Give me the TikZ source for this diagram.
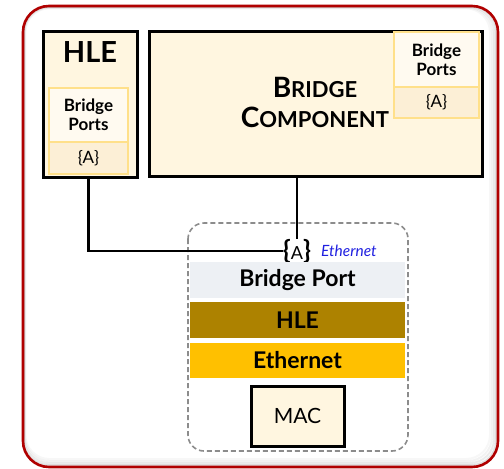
\documentclass[tikz,border=0pt]{standalone}
\usepackage{fontspec}
\setmainfont{Lato}
\usetikzlibrary{positioning}
\definecolor{redline}{HTML}{B00000}
\definecolor{cream}{HTML}{FFF6E0}
\definecolor{portfill}{HTML}{FFFAF0}
\definecolor{afill}{HTML}{FCEFD6}
\definecolor{goldline}{HTML}{FFE08A}
\definecolor{bpfill}{HTML}{EDF0F4}
\definecolor{hlefill}{HTML}{AD8200}
\definecolor{ethfill}{HTML}{FFC000}
\definecolor{dashgray}{HTML}{8C8C8C}
\definecolor{ethblue}{HTML}{1F1FE0}
\tikzset{
  blackbox/.style={draw=black,line width=3pt,fill=cream,inner sep=0pt},
  portbox/.style={draw=goldline,line width=1.2pt,fill=portfill,inner sep=0pt,align=center,font=\fontsize{17}{19}\selectfont\bfseries},
  abox/.style={draw=goldline,line width=1.2pt,fill=afill,inner sep=0pt,font=\fontsize{17}{19}\selectfont},
  band/.style={inner sep=0pt,minimum width=215pt,font=\fontsize{23}{25}\selectfont\bfseries},
  conn/.style={line width=2.5pt,black},
}
\begin{document}
\begin{tikzpicture}[x=1pt,y=-1pt]
\useasboundingbox (0,0) rectangle (504,469);
% outer frame with soft inner shadow
\foreach \i/\o in {2/0.12,4/0.08,6/0.05,8/0.03}{
  \draw[black,opacity=\o,line width=2pt,rounded corners=24pt] (23+\i*0.3,6+\i*0.3) rectangle (498-\i,467-\i);
}
\draw[redline,line width=2.6pt,rounded corners=26pt] (23,6) rectangle (498,467);
% HLE box
\node[blackbox,minimum width=94pt,minimum height=146pt] (hle) at (90,104) {};
\node[font=\fontsize{29}{31}\selectfont\bfseries] (hlet) at (90,52) {HLE};
\node[portbox,minimum width=79pt,minimum height=54pt] (hlebp) at (88.5,115) {Bridge\\[0pt]Ports};
\node[abox,minimum width=79pt,minimum height=32pt] (hleA) at (88.5,158) {\{A\}};
% Bridge component
\node[blackbox,minimum width=333pt,minimum height=145pt] (bc) at (315.5,103.5) {};
\node[font=\fontsize{28}{30}\selectfont\bfseries,align=center] (bct) at (315,102) {B{\fontsize{22}{24}\selectfont RIDGE}\\[0pt]C{\fontsize{22}{24}\selectfont OMPONENT}};
\node[portbox,minimum width=85pt,minimum height=55pt] (bcbp) at (436.5,59.5) {Bridge\\[0pt]Ports};
\node[abox,minimum width=85pt,minimum height=31pt] (bcA) at (436.5,102.5) {\{A\}};
% dashed interface stack
\draw[dashgray,line width=1.6pt,dash pattern=on 5pt off 3pt,rounded corners=16pt] (188,223) rectangle (408,451);
\node[inner sep=0pt,font=\fontsize{18}{20}\selectfont] (A) at (297,251) {{\fontsize{26}{26}\selectfont\bfseries\{}A{\fontsize{26}{26}\selectfont\bfseries\}}};
\node[anchor=west,inner sep=0pt,text=ethblue,font=\fontsize{15.5}{17}\selectfont\itshape] (ethl) at (321,251) {Ethernet};
\node[band,fill=bpfill,minimum height=36pt] (bp) at (297.5,280) {Bridge Port};
\node[band,fill=hlefill,minimum height=36pt] (hleband) at (297.5,320) {HLE};
\node[band,fill=ethfill,minimum height=35pt] (ethband) at (297.5,360.5) {Ethernet};
\node[blackbox,minimum width=93pt,minimum height=60pt,font=\fontsize{21}{23}\selectfont] (mac) at (297.5,416) {MAC};
% connectors
\draw[conn] (hle.south -| hleA.south) |- (A.west);
\draw[conn] (bc.south -| A.north) -- (A.north);
\end{tikzpicture}
\end{document}
